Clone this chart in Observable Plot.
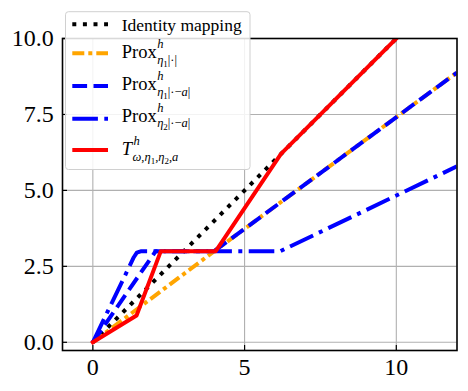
<!DOCTYPE html>
<html>
<head>
<meta charset="utf-8">
<script src="https://cdn.jsdelivr.net/npm/d3@7"></script>
<script src="https://cdn.jsdelivr.net/npm/@observablehq/plot@0.6"></script>
<style>
  html, body { margin: 0; padding: 0; background: white; }
</style>
</head>
<body>
<div id="chart"></div>
<script>
// ---- data ----
const identityX = [0, 12];
const identityY = [0, 12];
const proxAbsX = [0, 4, 12];
const proxAbsY = [0, 3, 8.88];
const proxEta1X = [0, 2.07, 4, 12];
const proxEta1Y = [0, 3, 3, 8.88];
const proxEta2X = [0, 1.35, 1.45, 1.6, 6.18, 12];
const proxEta2Y = [0, 2.8, 2.95, 3, 3, 5.79];
const opX = [0, 1.44, 2.24, 4.05, 6.2, 12];
const opY = [0, 0.88, 3, 3, 6.2, 12];
const xTicks = [0, 5, 10];
const xTickLabels = ["0", "5", "10"];
const yTicks = [0, 2.5, 5, 7.5, 10];
const yTickLabels = ["0.0", "2.5", "5.0", "7.5", "10.0"];
const seriesLabels = [
  {main: [{t: "Identity mapping"}]},
  {main: [{t: "Prox"}], sup: [{t: "h", i: 1}], sub: [{t: "η", i: 1}, {t: "1", ss: 1}, {t: "|·|"}]},
  {main: [{t: "Prox"}], sup: [{t: "h", i: 1}], sub: [{t: "η", i: 1}, {t: "1", ss: 1}, {t: "|·−"}, {t: "a", i: 1}, {t: "|"}]},
  {main: [{t: "Prox"}], sup: [{t: "h", i: 1}], sub: [{t: "η", i: 1}, {t: "2", ss: 1}, {t: "|·−"}, {t: "a", i: 1}, {t: "|"}]},
  {main: [{t: "T", i: 1}], sup: [{t: "h", i: 1}], sub: [{t: "ω", i: 1}, {t: ","}, {t: "η", i: 1}, {t: "1", ss: 1}, {t: ","}, {t: "η", i: 1}, {t: "2", ss: 1}, {t: ","}, {t: "a", i: 1}]}
];

// ---- styles ----
const styles = [
  {stroke: "black", dash: "4,6.6"},
  {stroke: "orange", dash: "12,4,4,4"},
  {stroke: "blue", dash: "14.8,6.4"},
  {stroke: "blue", dash: "25.6,6.4,4,6.4"},
  {stroke: "red", dash: null}
];
const seriesXY = [
  [identityX, identityY],
  [proxAbsX, proxAbsY],
  [proxEta1X, proxEta1Y],
  [proxEta2X, proxEta2Y],
  [opX, opY]
];

const lineMarks = seriesXY.map(([xs, ys], k) =>
  Plot.line(d3.zip(xs, ys), {
    x: d => d[0], y: d => d[1],
    stroke: styles[k].stroke, strokeWidth: 4,
    strokeDasharray: styles[k].dash,
    strokeLinecap: styles[k].dash ? "butt" : "square",
    strokeLinejoin: "round",
    clip: true
  })
);

const plot = Plot.plot({
  width: 468,
  height: 391,
  marginLeft: 62,
  marginRight: 11.5,
  marginTop: 38,
  marginBottom: 41,
  x: {domain: [-1, 12]},
  y: {domain: [-0.27, 10]},
  style: {fontFamily: "'Liberation Serif', serif", background: "white", color: "black"},
  marks: [
    Plot.gridX(xTicks, {stroke: "#b0b0b0", strokeOpacity: 1, strokeWidth: 1.1}),
    Plot.gridY(yTicks, {stroke: "#b0b0b0", strokeOpacity: 1, strokeWidth: 1.1}),
    ...lineMarks,
    Plot.frame({stroke: "black", strokeWidth: 1.6}),
    Plot.axisX(xTicks, {tickSize: -5, fill: "none", label: null, strokeWidth: 1.2}),
    Plot.axisX(xTicks, {tickSize: 0, tickPadding: 7.5, fontSize: 24, label: null,
      tickFormat: d => xTickLabels[xTicks.indexOf(d)]}),
    Plot.axisY(yTicks, {tickSize: -5, fill: "none", label: null, strokeWidth: 1.2}),
    Plot.axisY(yTicks, {tickSize: 0, tickPadding: 8.7, fontSize: 24, label: null,
      tickFormat: d => yTickLabels[yTicks.indexOf(d)]})
  ]
});
document.getElementById("chart").appendChild(plot);

// ---- legend ----
const svg = d3.select(plot);
const lg = svg.append("g")
  .attr("font-family", "'Liberation Serif', serif")
  .attr("text-anchor", "start");
lg.append("rect")
  .attr("x", 65.5).attr("y", 11.7).attr("width", 184.5).attr("height", 157.8)
  .attr("rx", 3).attr("ry", 3)
  .attr("fill", "white").attr("fill-opacity", 0.85)
  .attr("stroke", "#d0d0d0").attr("stroke-width", 1);

const handleY = [24.3, 53.3, 86, 118.7, 150];
const baseY = [30.5, 58.3, 90, 121.7, 155];
const mainSize = [17.5, 18.5, 18.5, 18.5, 18.5];
const textX = 121.7;

function drawRich(g, x, y, size, parts) {
  const t = g.append("text").attr("x", x).attr("y", y)
    .attr("font-size", size).attr("fill", "black")
    .attr("text-anchor", "start");
  let shift = 0;
  for (const p of parts) {
    const s = p.ss ? size * 0.25 : 0;
    const ts = t.append("tspan").text(p.t);
    if (p.i) ts.attr("font-style", "italic");
    if (p.ss) ts.attr("font-size", size * 0.72);
    const dy = s - shift;
    if (dy) ts.attr("dy", dy);
    shift = s;
  }
  return t;
}

seriesLabels.forEach((lab, k) => {
  const st = styles[k];
  lg.append("line")
    .attr("x1", 72.3).attr("x2", 108)
    .attr("y1", handleY[k]).attr("y2", handleY[k])
    .attr("stroke", st.stroke).attr("stroke-width", 4)
    .attr("stroke-dasharray", st.dash)
    .attr("stroke-linecap", "butt");
  const m = drawRich(lg, textX, baseY[k], mainSize[k], lab.main);
  const w = m.node().getComputedTextLength();
  const italicMain = lab.main[0].i;
  if (lab.sup) drawRich(lg, textX + w + (italicMain ? 1.5 : 0.5), baseY[k] - 10, 12.5, lab.sup);
  if (lab.sub) drawRich(lg, textX + w + 0.5, baseY[k] + 5.5, 12.5, lab.sub);
});
</script>
</body>
</html>
